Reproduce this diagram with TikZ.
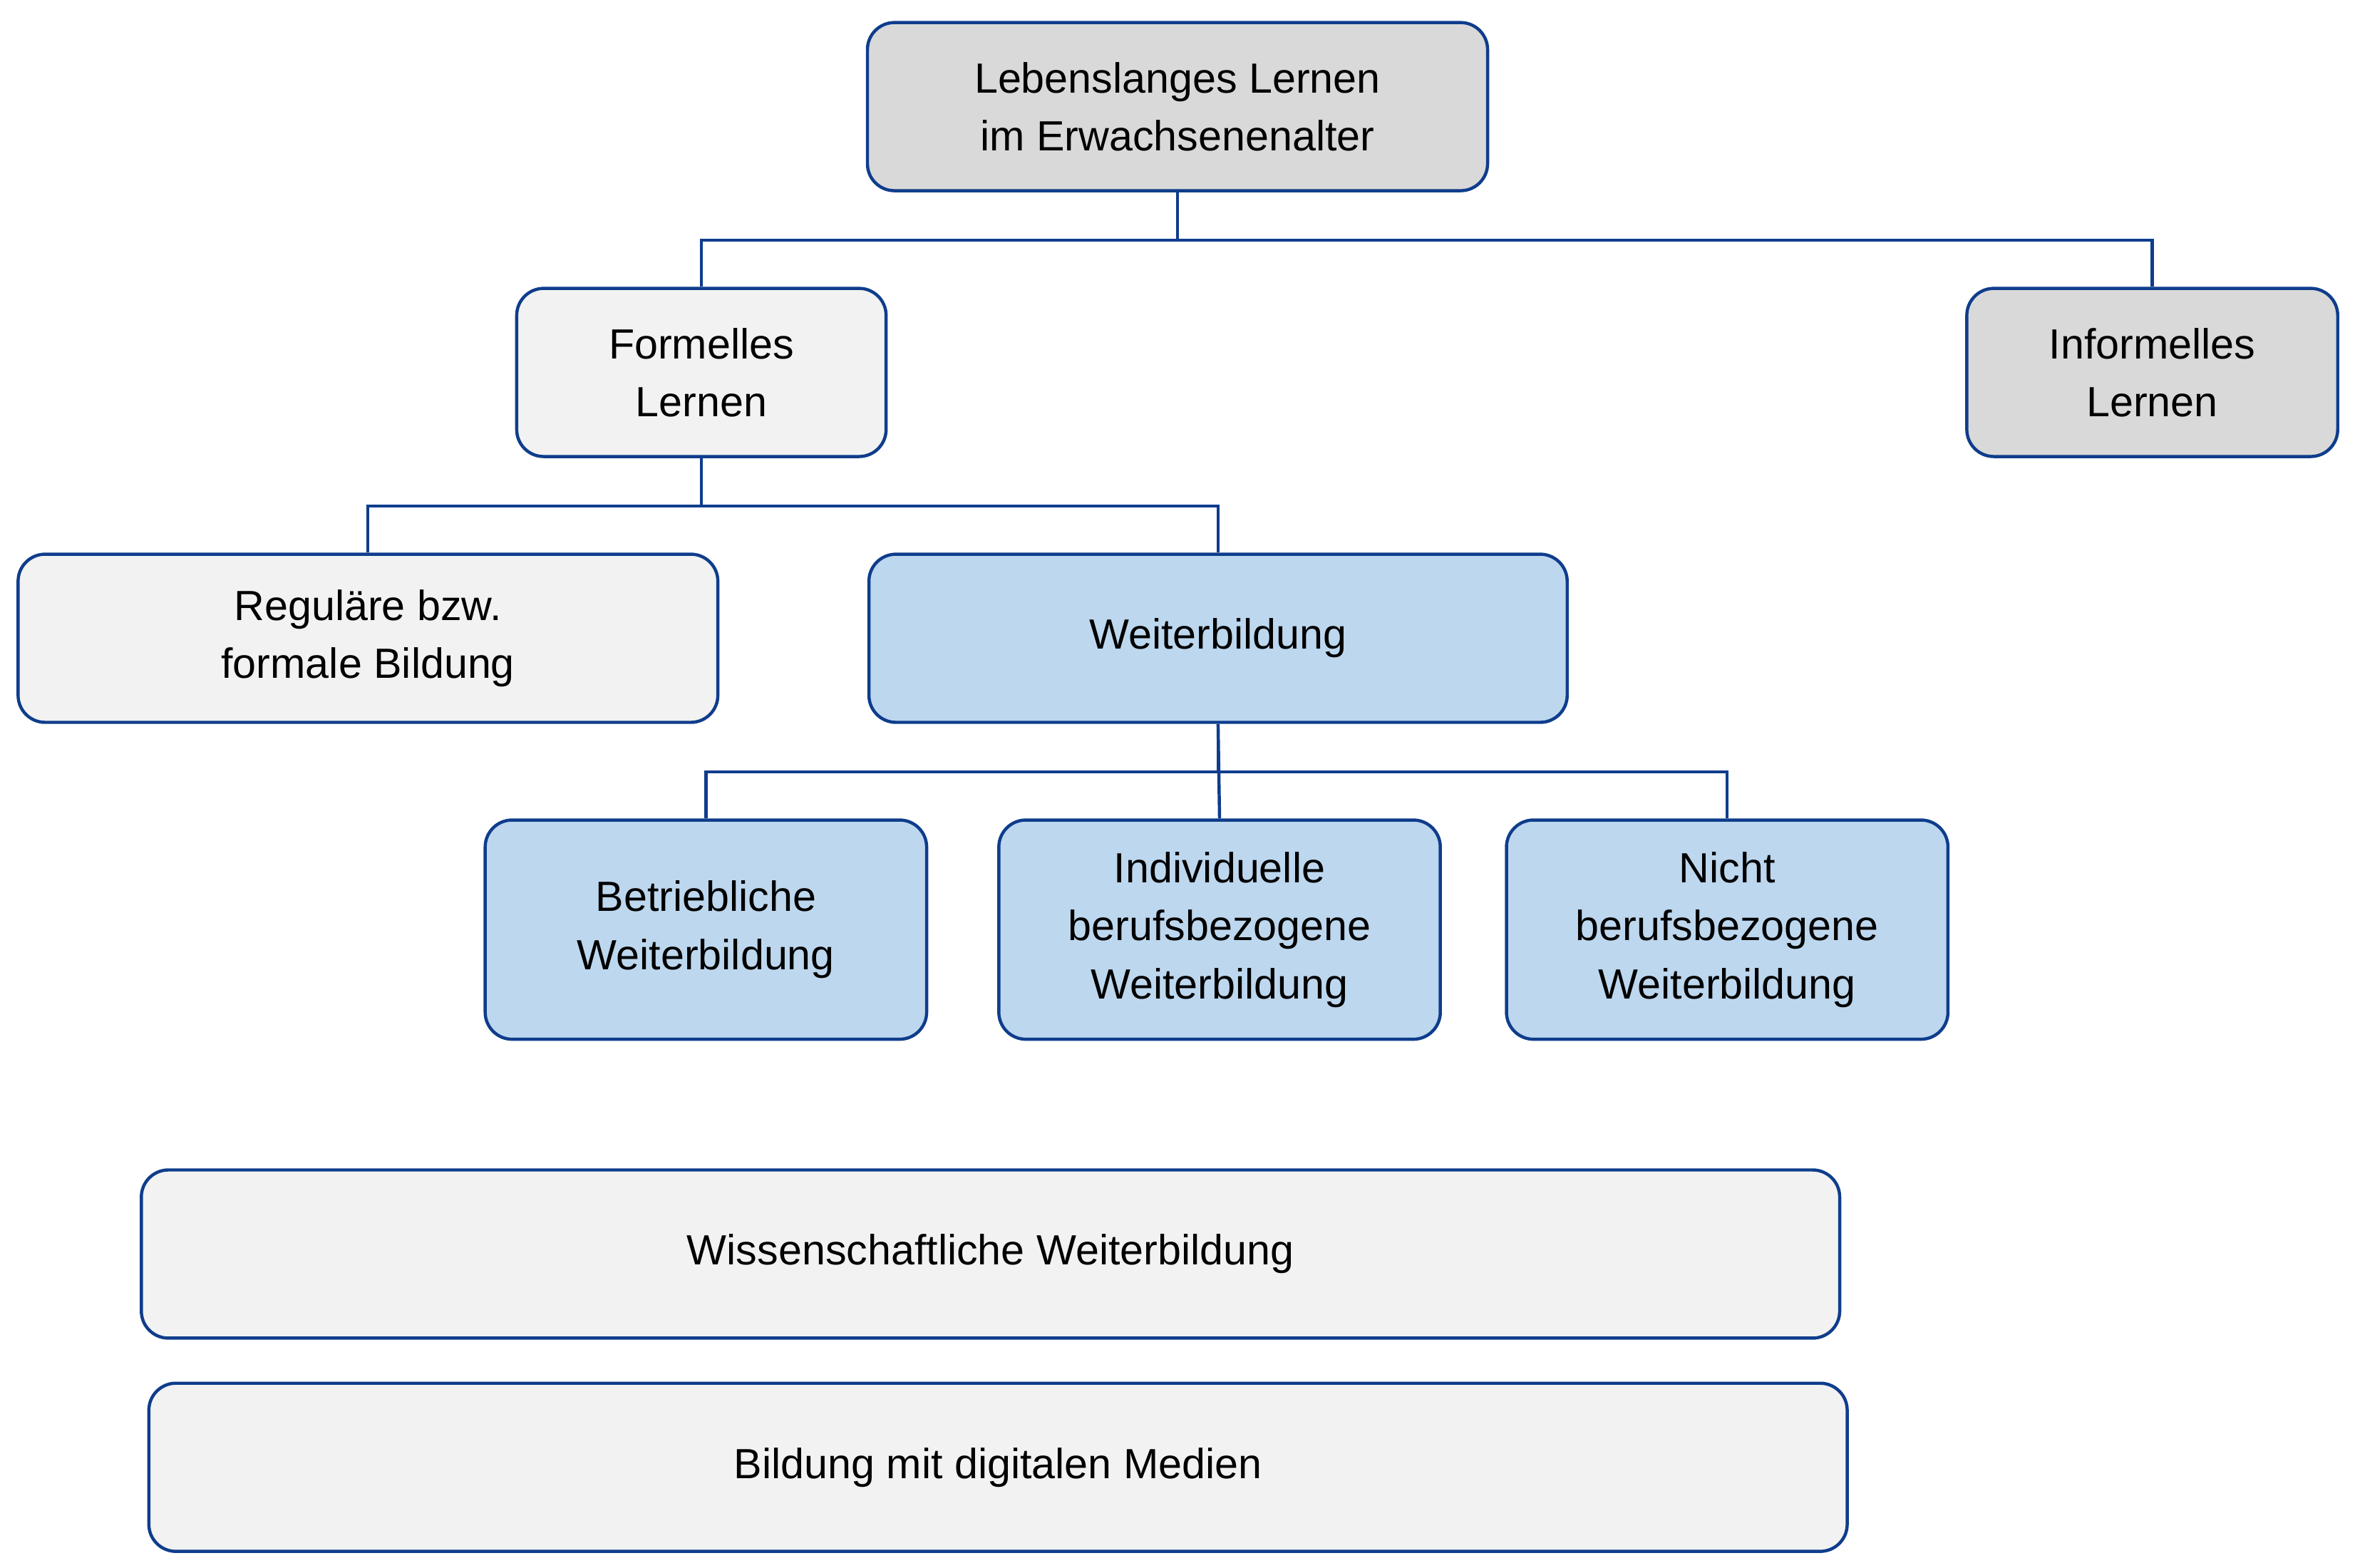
\documentclass[tikz,border=0pt]{standalone}
\usepackage{fontspec}
\setmainfont{Liberation Sans}
\begin{document}
\begin{tikzpicture}[x=0.02cm,y=-0.02cm,
 box/.style={draw=bdr,line width=1.2pt,rounded corners=0.36cm,align=center,inner sep=0pt,font=\fontsize{16}{22}\selectfont,minimum height=2.24cm},
 conn/.style={draw=bdr,line width=1.2pt}]
\definecolor{bdr}{HTML}{0F3D8C}
\definecolor{gr}{HTML}{D9D9D9}
\definecolor{lg}{HTML}{F2F2F2}
\definecolor{bl}{HTML}{BDD7EE}
\useasboundingbox (0,0) rectangle (1568,1044);
\node[box,fill=gr,minimum width=8.26cm] (top) at (784,71) {Lebenslanges Lernen\\im Erwachsenenalter};
\node[box,fill=lg,minimum width=4.92cm] (form) at (467,248) {Formelles\\Lernen};
\node[box,fill=gr,minimum width=4.94cm] (inf) at (1433,248) {Informelles\\Lernen};
\node[box,fill=lg,minimum width=9.32cm] (reg) at (245,425) {Reguläre bzw.\\formale Bildung};
\node[box,fill=bl,minimum width=9.3cm] (wb) at (811,425) {Weiterbildung};
\node[box,fill=bl,minimum width=5.88cm,minimum height=2.92cm] (bet) at (470,619) {Betriebliche\\Weiterbildung};
\node[box,fill=bl,minimum width=5.88cm,minimum height=2.92cm] (ind) at (812,619) {Individuelle\\berufsbezogene\\Weiterbildung};
\node[box,fill=bl,minimum width=5.88cm,minimum height=2.92cm] (nic) at (1150,619) {Nicht\\berufsbezogene\\Weiterbildung};
\node[box,fill=lg,minimum width=22.62cm] (wis) at (659.5,835) {Wissenschaftliche Weiterbildung};
\node[box,fill=lg,minimum width=22.62cm] (dig) at (664.5,977) {Bildung mit digitalen Medien};
\draw[conn] (top.south) -- ++(0,32) -| (form.north);
\draw[conn] (top.south) -- ++(0,32) -| (inf.north);
\draw[conn] (form.south) -- ++(0,32) -| (reg.north);
\draw[conn] (form.south) -- ++(0,32) -| (wb.north);
\draw[conn] (wb.south) -- ++(0,32) -| (bet.north);
\draw[conn] (wb.south) -- (ind.north);
\draw[conn] (wb.south) -- ++(0,32) -| (nic.north);
\end{tikzpicture}
\end{document}
